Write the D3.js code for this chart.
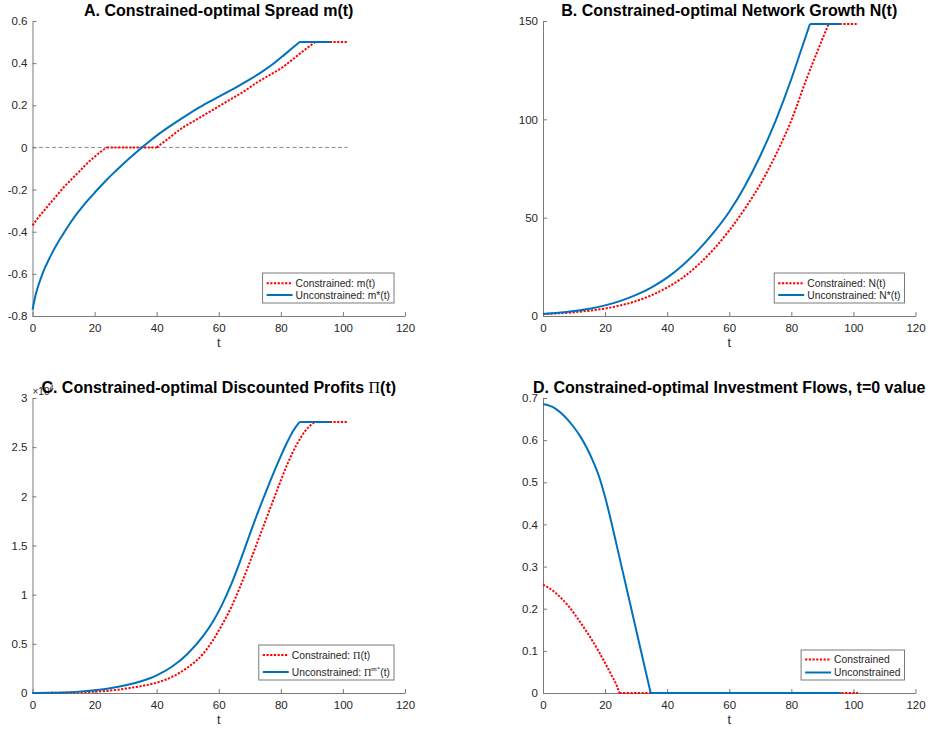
<!DOCTYPE html>
<html>
<head>
<meta charset="utf-8">
<script src="https://cdn.jsdelivr.net/npm/d3@7"></script>
<style>
    body { margin: 0; background: #fff; }
    svg { display: block; font-family: "Liberation Sans", Arial, sans-serif; }
</style>
</head>
<body>
<svg id="chart" width="928" height="734"></svg>
<script>
// Shared x ticks
const xTicks = [0, 20, 40, 60, 80, 100, 120];

// A. spread m(t)
const spreadTimeCon = [0, 2, 4, 6, 8, 10, 12, 14, 16, 18, 20, 22, 24, 40, 44, 48, 52, 56, 60, 64, 68, 72, 76, 80, 84, 87, 91, 101.5];
const spreadCon = [-0.37, -0.33, -0.295, -0.26, -0.225, -0.19, -0.16, -0.13, -0.1, -0.07, -0.045, -0.02, 0, 0, 0.045, 0.09, 0.125, 0.16, 0.195, 0.23, 0.265, 0.305, 0.34, 0.375, 0.42, 0.455, 0.5, 0.5];
const spreadTimeUnc = [0, 1, 2, 3, 4, 5, 6, 8, 10, 12, 14, 16, 18, 20, 22, 24, 26, 28, 30, 32, 34, 35, 36, 38, 40, 43, 46, 50, 54, 58, 62, 66, 70, 74, 78, 81, 84, 86, 96];
const spreadUnc = [-0.77, -0.7, -0.65, -0.608, -0.572, -0.54, -0.51, -0.456, -0.408, -0.362, -0.32, -0.283, -0.248, -0.215, -0.183, -0.152, -0.123, -0.095, -0.068, -0.042, -0.016, -0.004, 0.009, 0.033, 0.056, 0.088, 0.118, 0.156, 0.192, 0.225, 0.257, 0.289, 0.323, 0.36, 0.402, 0.438, 0.475, 0.5, 0.5];
const spreadTicks = [-0.8, -0.6, -0.4, -0.2, 0, 0.2, 0.4, 0.6];

// B. network N(t)
const netTimeCon = [0, 5, 10, 15, 20, 25, 30, 35, 40, 45, 50, 55, 60, 65, 70, 75, 80, 85, 88, 92, 101.5];
const netCon = [1, 1.35, 1.9, 2.7, 3.8, 5.4, 7.6, 10.6, 14.5, 19.5, 26, 34, 43.5, 54.5, 67, 82, 99.5, 121, 133, 148.5, 148.5];
const netTimeUnc = [0, 5, 10, 15, 20, 25, 30, 35, 40, 45, 50, 55, 60, 65, 70, 75, 80, 83, 86, 96];
const netUnc = [1, 1.6, 2.5, 3.7, 5.4, 7.7, 10.7, 14.6, 19.5, 25.8, 33.5, 42.5, 53, 66, 81.5, 99.5, 120.5, 134.5, 148.5, 148.5];
const netTicks = [0, 50, 100, 150];

// C. discounted profits (x 10^4)
const profTimeCon = [0, 5, 10, 15, 20, 25, 30, 35, 40, 45, 50, 55, 58, 61, 64, 67, 70, 73, 76, 79, 82, 85, 88, 90, 91, 101.5];
const profCon = [0, 0.001, 0.003, 0.007, 0.013, 0.025, 0.045, 0.07, 0.105, 0.165, 0.26, 0.4, 0.53, 0.69, 0.87, 1.09, 1.33, 1.58, 1.83, 2.08, 2.32, 2.52, 2.67, 2.735, 2.755, 2.755];
const profTimeUnc = [0, 5, 10, 15, 20, 25, 30, 35, 40, 45, 50, 55, 58, 61, 64, 67, 70, 73, 76, 79, 82, 84, 86, 96];
const profUnc = [0, 0.002, 0.006, 0.014, 0.028, 0.048, 0.078, 0.12, 0.18, 0.27, 0.4, 0.58, 0.72, 0.894, 1.104, 1.35, 1.614, 1.869, 2.109, 2.337, 2.547, 2.667, 2.755, 2.755];
const profTicks = [0, 0.5, 1, 1.5, 2, 2.5, 3];

// D. investment flows
const invTimeCon = [0, 2, 4, 6, 8, 10, 12, 14, 16, 18, 20, 22, 24, 24.6, 101.5];
const invCon = [0.257, 0.249, 0.238, 0.224, 0.208, 0.189, 0.168, 0.146, 0.123, 0.098, 0.071, 0.043, 0.013, 0, 0];
const invTimeUnc = [0, 2, 4, 6, 8, 10, 12, 14, 16, 18, 20, 22, 24, 26, 28, 30, 32, 34, 34.7, 96];
const invUnc = [0.685, 0.682, 0.675, 0.663, 0.648, 0.63, 0.609, 0.583, 0.552, 0.515, 0.465, 0.406, 0.342, 0.278, 0.214, 0.15, 0.086, 0.022, 0, 0];
const invTicks = [0, 0.1, 0.2, 0.3, 0.4, 0.5, 0.6, 0.7];

const svg = d3.select('#chart');
const plotW = 372.5;
const plotH = 295;
const axisColor = '#7a7a7a';
const textColor = '#262626';
const blue = '#0072BD';
const red = '#ff0000';
const serif = '"Liberation Serif", "Times New Roman", serif';

const fmt = d => String(+d.toFixed(2));

// append text built from pieces [{t, serif, sup}]
function richText(sel, pieces) {
    pieces.forEach(p => {
        const ts = sel.append('tspan').text(p.t);
        if (p.serif) ts.style('font-family', serif).style('font-weight', 'normal');
        if (p.sup) ts.attr('dy', -5).style('font-size', '7px');
        if (p.after) ts.attr('dy', 5);
    });
}

// split points into flat runs and curved runs so the corners stay sharp
function splitRuns(pts) {
    const runs = [];
    let cur = null;
    for (let i = 0; i < pts.length - 1; i++) {
        const flat = pts[i][1] === pts[i + 1][1];
        if (!cur || cur.flat !== flat) {
            cur = { flat, pts: [pts[i]] };
            runs.push(cur);
        }
        cur.pts.push(pts[i + 1]);
    }
    return runs;
}

function drawPanel(o) {
    const g = svg.append('g').attr('transform', `translate(${o.left},${o.top})`);

    const x = d3.scaleLinear().domain([0, 120]).range([0, plotW]);
    const y = d3.scaleLinear().domain(o.yDomain).range([plotH, 0]);

    // axes (box off, ticks inward)
    const xAxis = g.append('g')
        .attr('transform', `translate(0,${plotH})`)
        .call(d3.axisBottom(x).tickValues(xTicks).tickSize(-4).tickSizeOuter(0).tickPadding(7.5).tickFormat(fmt));
    const yAxis = g.append('g')
        .call(d3.axisLeft(y).tickValues(o.yTicks).tickSize(-4).tickSizeOuter(0).tickPadding(5).tickFormat(fmt));
    [xAxis, yAxis].forEach(a => {
        a.selectAll('path, line').attr('stroke', axisColor);
        a.selectAll('text').attr('fill', textColor).style('font-size', '11.5px').style('font-family', '"Liberation Sans", Arial, sans-serif');
    });

    g.append('text')
        .attr('x', plotW / 2)
        .attr('y', plotH + 31)
        .attr('text-anchor', 'middle')
        .attr('fill', textColor)
        .style('font-size', '12.5px')
        .text('t');

    // MATLAB puts the exponent label under the title here
    if (o.exponent) {
        const ex = g.append('text')
            .attr('x', 0)
            .attr('y', -3)
            .attr('fill', textColor)
            .style('font-size', '10px');
        ex.append('tspan').text('×10');
        ex.append('tspan').attr('dy', -5).style('font-size', '7.5px').text('4');
    }

    // title
    const title = g.append('text')
        .attr('x', plotW / 2)
        .attr('y', -5)
        .attr('text-anchor', 'middle')
        .attr('fill', '#000')
        .style('font-size', '16px')
        .style('font-weight', 'bold');
    richText(title, o.title);

    if (o.zeroLine) {
        g.append('line')
            .attr('x1', x(0)).attr('x2', x(101.5))
            .attr('y1', y(0)).attr('y2', y(0))
            .attr('stroke', '#808080')
            .attr('stroke-width', 0.9)
            .attr('stroke-dasharray', '4,2.5');
    }

    const curved = d3.line()
        .x(d => x(d[0]))
        .y(d => y(d[1]))
        .curve(d3.curveMonotoneX);
    const straight = d3.line()
        .x(d => x(d[0]))
        .y(d => y(d[1]));

    o.series.forEach(s => {
        const runs = splitRuns(d3.zip(s.t, s.v));
        g.append('path')
            .attr('d', runs.map(r => (r.flat ? straight : curved)(r.pts)).join(''))
            .attr('fill', 'none')
            .attr('stroke', s.color)
            .attr('stroke-width', 2)
            .attr('stroke-linejoin', 'round')
            .attr('stroke-dasharray', s.dotted ? '2.2,1.5' : null);
    });

    // legend, anchored bottom-right
    const lg = g.append('g');
    const box = lg.append('rect')
        .attr('fill', '#fff')
        .attr('stroke', axisColor)
        .attr('stroke-width', 1);
    const texts = [];
    o.legend.forEach((e, i) => {
        const s = o.series[i];
        const ry = o.legendRows[i];
        lg.append('line')
            .attr('x1', 4).attr('x2', 30)
            .attr('y1', ry).attr('y2', ry)
            .attr('stroke', s.color)
            .attr('stroke-width', 2)
            .attr('stroke-dasharray', s.dotted ? '2.2,1.5' : null);
        const t = lg.append('text')
            .attr('x', 33)
            .attr('y', ry + 3.7)
            .attr('fill', textColor)
            .style('font-size', '10.3px');
        richText(t, e);
        texts.push(t);
    });
    const w = 33 + d3.max(texts, t => t.node().getComputedTextLength()) + 4;
    box.attr('x', 0).attr('y', 0).attr('width', w).attr('height', o.legendH);
    lg.attr('transform', `translate(${plotW - 11 - w},${plotH - 13 - o.legendH})`);
}

const cRed = { color: red, dotted: true };
const cBlue = { color: blue, dotted: false };

drawPanel({
    left: 32.5, top: 21,
    yDomain: [-0.8, 0.6], yTicks: spreadTicks,
    title: [{ t: 'A. Constrained-optimal Spread m(t)' }],
    zeroLine: true,
    series: [
        { ...cRed, t: spreadTimeCon, v: spreadCon },
        { ...cBlue, t: spreadTimeUnc, v: spreadUnc }
    ],
    legend: [[{ t: 'Constrained: m(t)' }], [{ t: 'Unconstrained: m*(t)' }]],
    legendRows: [10.3, 22], legendH: 30
});

drawPanel({
    left: 543, top: 21,
    yDomain: [0, 150], yTicks: netTicks,
    title: [{ t: 'B. Constrained-optimal Network Growth N(t)' }],
    series: [
        { ...cRed, t: netTimeCon, v: netCon },
        { ...cBlue, t: netTimeUnc, v: netUnc }
    ],
    legend: [[{ t: 'Constrained: N(t)' }], [{ t: 'Unconstrained: N*(t)' }]],
    legendRows: [10.3, 22], legendH: 30
});

drawPanel({
    left: 32.5, top: 398,
    yDomain: [0, 3], yTicks: profTicks,
    title: [{ t: 'C. Constrained-optimal Discounted Profits ' }, { t: 'Π', serif: true }, { t: '(t)' }],
    exponent: true,
    series: [
        { ...cRed, t: profTimeCon, v: profCon },
        { ...cBlue, t: profTimeUnc, v: profUnc }
    ],
    legend: [
        [{ t: 'Constrained: ' }, { t: 'Π', serif: true }, { t: '(t)' }],
        [{ t: 'Unconstrained: ' }, { t: 'Π', serif: true }, { t: 'm*', serif: true, sup: true }, { t: '(t)', after: true }]
    ],
    legendRows: [10, 27], legendH: 35
});

drawPanel({
    left: 543, top: 398,
    yDomain: [0, 0.7], yTicks: invTicks,
    title: [{ t: 'D. Constrained-optimal Investment Flows, t=0 value' }],
    series: [
        { ...cRed, t: invTimeCon, v: invCon },
        { ...cBlue, t: invTimeUnc, v: invUnc }
    ],
    legend: [[{ t: 'Constrained' }], [{ t: 'Unconstrained' }]],
    legendRows: [9.5, 22.5], legendH: 30
});
</script>
</body>
</html>
